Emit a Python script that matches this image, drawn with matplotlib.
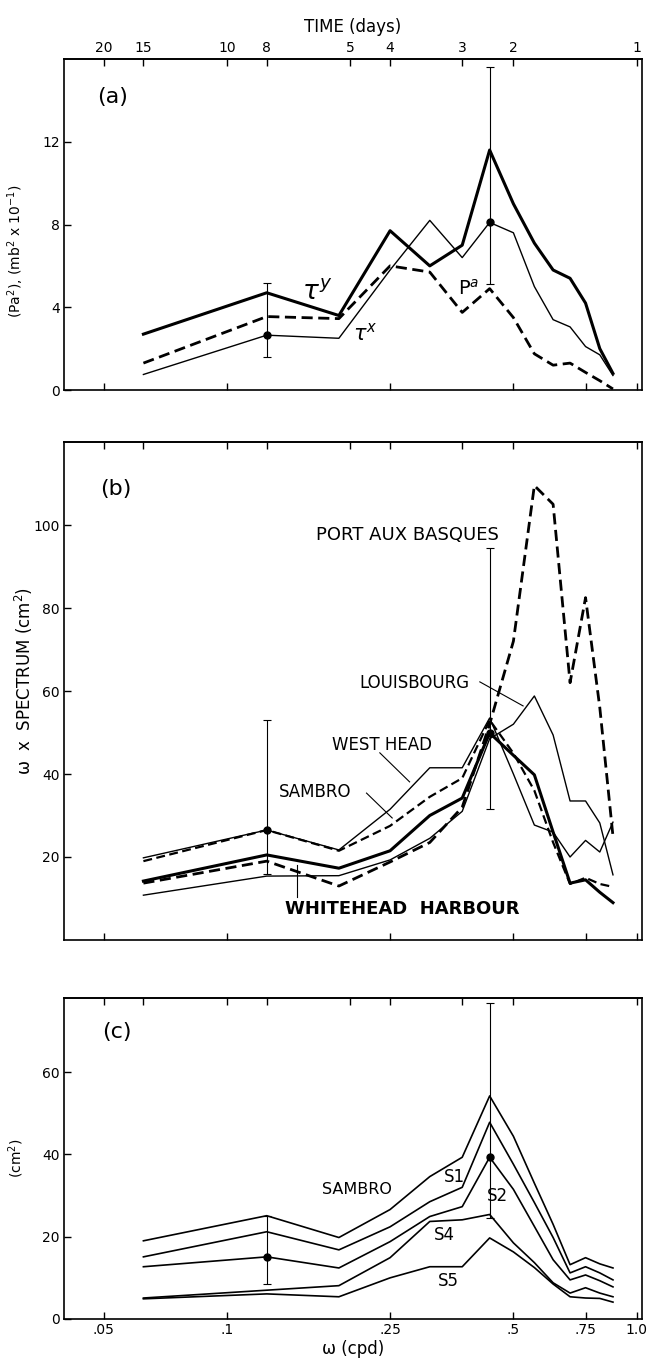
import numpy as np
import matplotlib.pyplot as plt
from matplotlib.ticker import NullLocator, NullFormatter

plt.rcParams['font.family'] = ['DejaVu Sans']
plt.rcParams['mathtext.fontset'] = 'dejavusans'

# spectral estimates at 1/16 cpd spacing
freq = np.arange(1, 15) / 16.0

# (a) wind stress components and atmospheric pressure
tau_y = [2.7, 4.7, 3.6, 7.7, 6.0, 7.0, 11.6, 9.0, 7.1, 5.8, 5.4, 4.2, 2.0, 0.8]
tau_x = [0.75, 2.65, 2.5, 5.8, 8.2, 6.4, 8.1, 7.6, 5.0, 3.4, 3.05, 2.1, 1.7, 0.7]
p_a = [1.3, 3.55, 3.45, 6.0, 5.7, 3.75, 4.9, 3.5, 1.75, 1.2, 1.3, 0.85, 0.45, 0.05]

# (b) coastal sea level stations
port_aux_basques = [13.7, 19.0, 13.0, 18.8, 23.5, 32.0, 52.0, 72.0, 109.5, 105.0, 62.0, 82.5, 56.0, 25.0]
louisbourg = [10.8, 15.4, 15.5, 19.3, 24.5, 31.0, 48.5, 52.0, 58.8, 49.4, 33.5, 33.5, 28.2, 15.7]
west_head = [19.8, 26.5, 21.7, 31.5, 41.5, 41.5, 53.5, 40.0, 27.7, 26.0, 20.0, 24.0, 21.2, 28.4]
sambro_b = [19.0, 26.5, 21.5, 27.5, 34.5, 39.0, 53.0, 45.0, 36.0, 23.5, 13.5, 15.0, 13.5, 12.8]
whitehead = [14.2, 20.5, 17.3, 21.5, 30.0, 34.2, 49.9, 44.5, 39.8, 26.0, 13.7, 14.5, 11.5, 9.0]

# (c) Sambro and shelf stations
sambro_c = [19.0, 25.1, 19.8, 26.6, 34.6, 39.3, 54.2, 44.4, 33.0, 23.0, 13.2, 14.9, 13.4, 12.4]
s1 = [15.1, 21.2, 16.8, 22.4, 28.5, 32.0, 47.8, 37.6, 28.3, 19.8, 11.2, 12.7, 11.2, 9.5]
s2 = [12.7, 15.1, 12.4, 18.8, 24.9, 27.3, 39.3, 31.5, 22.5, 14.4, 9.5, 10.7, 9.3, 7.8]
s4 = [5.1, 7.0, 8.1, 14.9, 23.7, 24.1, 25.4, 18.5, 13.7, 8.8, 6.3, 7.6, 6.3, 5.4]
s5 = [4.9, 6.1, 5.4, 10.0, 12.7, 12.7, 19.7, 16.3, 12.5, 8.5, 5.4, 5.1, 5.0, 4.1]

# confidence intervals (index into freq, lower, upper)
err_idx = [1, 6]
err_a_lo, err_a_hi = [1.6, 5.1], [5.15, 15.6]
err_b_lo, err_b_hi = [16.0, 31.5], [53.0, 94.5]
err_c_lo, err_c_hi = [8.5, 24.5], [25.0, 76.8]

freq_ticks = [0.05, 0.1, 0.25, 0.5, 0.75, 1.0]
freq_labels = ['.05', '.1', '.25', '.5', '.75', '1.0']
day_ticks = [1 / 20, 1 / 16, 1 / 10, 1 / 8, 1 / 5, 1 / 4, 3 / 8, 1 / 2, 1.0]
day_labels = ['20', '15', '10', '8', '5', '4', '3', '2', '1']

fig = plt.figure(figsize=(6.58, 13.64), dpi=100)
W, H = 658.0, 1364.0


def make_axes(top_px, bottom_px):
    return fig.add_axes([64 / W, 1 - bottom_px / H, 578 / W, (bottom_px - top_px) / H])


def frame(ax, ylim, yticks, bottom_labels, top_labels):
    ax.set_xscale('log')
    ax.set_xlim(0.04, 1.03)
    ax.set_ylim(*ylim)
    ax.set_xticks(freq_ticks)
    ax.set_xticklabels(freq_labels if bottom_labels else [''] * len(freq_ticks))
    ax.xaxis.set_minor_locator(NullLocator())
    ax.xaxis.set_minor_formatter(NullFormatter())
    ax.set_yticks(yticks)
    ax.tick_params(direction='in', length=5, width=1, labelsize=10, pad=3)
    for sp in ax.spines.values():
        sp.set_linewidth(1.2)
    top = ax.secondary_xaxis('top')
    top.set_xticks(day_ticks)
    top.set_xticklabels(day_labels if top_labels else [''] * len(day_ticks))
    top.xaxis.set_minor_locator(NullLocator())
    top.xaxis.set_minor_formatter(NullFormatter())
    top.tick_params(direction='in', length=5, width=1, labelsize=10, pad=3)
    top.spines['top'].set_linewidth(1.2)
    return top


def conf_bars(ax, series, lo, hi):
    mid = np.array([series[i] for i in err_idx])
    ax.errorbar(freq[err_idx], mid, yerr=[mid - np.array(lo), np.array(hi) - mid],
                fmt='o', color='k', ms=5, elinewidth=0.8, capsize=3, capthick=0.8, zorder=5)


# ---- (a) ----
ax_a = make_axes(59, 390)
top_a = frame(ax_a, (0, 16), [0, 4, 8, 12], False, True)
top_a.set_xlabel('TIME (days)', fontsize=12, labelpad=6)
ax_a.plot(freq, tau_y, color='k', lw=2.2)
ax_a.plot(freq, tau_x, color='k', lw=1.0)
ax_a.plot(freq, p_a, color='k', lw=2.0, ls=(0, (4, 2)))
conf_bars(ax_a, tau_x, err_a_lo, err_a_hi)
ax_a.text(0.057, 0.885, '(a)', transform=ax_a.transAxes, fontsize=16, ha='left', va='center')
ax_a.text(0.166, 4.75, r'$\tau^y$', fontsize=19, ha='center', va='center')
ax_a.text(0.217, 2.75, r'$\tau^x$', fontsize=15, ha='center', va='center')
ax_a.text(0.389, 4.9, r'$\mathrm{P}^{a}$', fontsize=14, ha='center', va='center')
ax_a.set_ylabel(r'(Pa$^2$), (mb$^2$ x 10$^{-1}$)', fontsize=10)
ax_a.yaxis.set_label_coords(-0.065, 0.42)

# ---- (b) ----
ax_b = make_axes(442, 940)
frame(ax_b, (0, 120), [20, 40, 60, 80, 100], False, False)
ax_b.plot(freq, port_aux_basques, color='k', lw=2.0, ls=(0, (4, 2)))
ax_b.plot(freq, louisbourg, color='k', lw=1.0)
ax_b.plot(freq, west_head, color='k', lw=1.0)
ax_b.plot(freq, sambro_b, color='k', lw=1.6, ls=(0, (4, 2)))
ax_b.plot(freq, whitehead, color='k', lw=2.2)
conf_bars(ax_b, west_head[:2] + whitehead[2:], err_b_lo, err_b_hi)
ax_b.text(0.062, 0.906, '(b)', transform=ax_b.transAxes, fontsize=16, ha='left', va='center')
ax_b.text(0.275, 97.6, 'PORT AUX BASQUES', fontsize=13, ha='center', va='center')
ax_b.text(0.286, 62.0, 'LOUISBOURG', fontsize=12, ha='center', va='center')
ax_b.plot([0.414, 0.528], [62.2, 56.4], color='k', lw=0.8)
ax_b.text(0.239, 47.0, 'WEST HEAD', fontsize=12, ha='center', va='center')
ax_b.plot([0.236, 0.279], [45.1, 38.1], color='k', lw=0.8)
ax_b.text(0.164, 35.7, 'SAMBRO', fontsize=12, ha='center', va='center')
ax_b.plot([0.219, 0.253], [35.4, 29.4], color='k', lw=0.8)
ax_b.text(0.267, 7.5, 'WHITEHEAD  HARBOUR', fontsize=13, fontweight='bold', ha='center', va='center')
ax_b.plot([0.148, 0.148], [18.1, 10.4], color='k', lw=0.8)
ax_b.set_ylabel('\u03c9  x  SPECTRUM (cm$^2$)', fontsize=12)
ax_b.yaxis.set_label_coords(-0.05, 0.52)

# ---- (c) ----
ax_c = make_axes(998, 1319)
frame(ax_c, (0, 78), [0, 20, 40, 60], True, False)
for series in (sambro_c, s1, s2, s4, s5):
    ax_c.plot(freq, series, color='k', lw=1.2)
conf_bars(ax_c, s2, err_c_lo, err_c_hi)
ax_c.text(0.066, 0.894, '(c)', transform=ax_c.transAxes, fontsize=16, ha='left', va='center')
ax_c.text(0.208, 31.5, 'SAMBRO', fontsize=11.5, ha='center', va='center')
ax_c.text(0.358, 34.6, 'S1', fontsize=12, ha='center', va='center')
ax_c.text(0.458, 30.0, 'S2', fontsize=12, ha='center', va='center')
ax_c.text(0.340, 20.5, 'S4', fontsize=12, ha='center', va='center')
ax_c.text(0.346, 9.3, 'S5', fontsize=12, ha='center', va='center')
ax_c.set_ylabel('(cm$^2$)', fontsize=10)
ax_c.yaxis.set_label_coords(-0.065, 0.5)
ax_c.set_xlabel('\u03c9 (cpd)', fontsize=12, labelpad=2)

fig.savefig('out.png', dpi=100)
